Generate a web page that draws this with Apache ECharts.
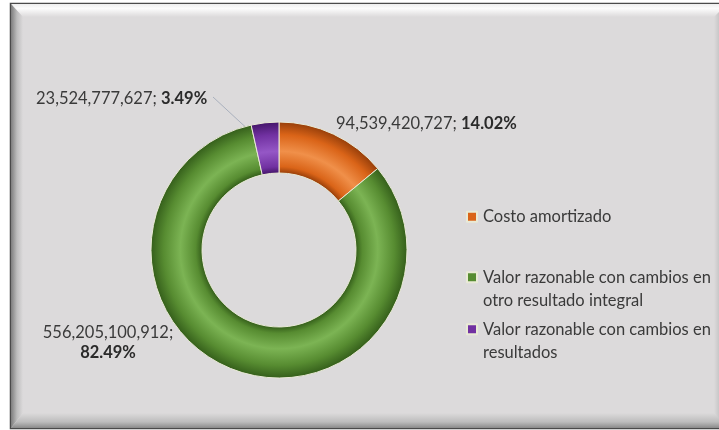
<!DOCTYPE html>
<html>
<head>
<meta charset="utf-8">
<script src="https://cdn.jsdelivr.net/npm/echarts@6/dist/echarts.min.js"></script>
<style>
  html, body { margin: 0; padding: 0; background: #ffffff; }
  #chart { width: 719px; height: 430px; }
</style>
</head>
<body>
<div id="chart"></div>
<script>
// categorias y valores
var categorias = [
    'Costo amortizado',
    'Valor razonable con cambios en otro resultado integral',
    'Valor razonable con cambios en resultados'
];
var valores = [94539420727, 556205100912, 23524777627];
var textosLeyenda = [
    'Costo amortizado',
    '\nValor razonable con cambios en\notro resultado integral',
    '\nValor razonable con cambios en\nresultados'
];
// colores: base, claro, oscuro
var coloresBase = ['#da6418', '#578c31', '#7131a1'];
var coloresClaros = ['#f0904a', '#7cb454', '#9557c6'];
var coloresOscuros = ['#983f0a', '#355f1b', '#45166a'];

var cx = 279, cy = 250, rIn = 77, rOut = 128;

function tubo(i) {
    var k = rIn / rOut;
    return {
        type: 'radial', x: cx, y: cy, r: rOut, global: true,
        colorStops: [
            {offset: 0, color: coloresOscuros[i]},
            {offset: k, color: coloresOscuros[i]},
            {offset: k + 0.05, color: coloresBase[i]},
            {offset: k + 0.17, color: coloresClaros[i]},
            {offset: k + 0.3, color: coloresBase[i]},
            {offset: 1, color: coloresOscuros[i]}
        ]
    };
}

function fmt(n) {
    return n.toLocaleString('en-US');
}

var datos = [];
for (var i = 0; i < categorias.length; i++) {
    datos.push({
        name: categorias[i],
        value: valores[i],
        itemStyle: {color: tubo(i)},
        labelLine: {show: i === 2}
    });
}

var fuente = 'Lato';
var tam = 16.5;
var leyendas = [];
var topes = [205, 242, 294];
for (var j = 0; j < categorias.length; j++) {
    (function (j) {
        leyendas.push({
            data: [{name: categorias[j], itemStyle: {color: coloresBase[j]}}],
            left: 466,
            top: topes[j],
            padding: 0,
            orient: 'vertical',
            icon: 'rect',
            itemWidth: 10,
            itemHeight: 10,
            itemGap: 0,
            selectedMode: false,
            formatter: function () { return textosLeyenda[j]; },
            textStyle: {fontFamily: fuente, fontSize: tam, lineHeight: 23.5, color: '#3a3a3a', padding: [0, 0, 0, 1]}
        });
    })(j);
}

// posiciones de etiquetas
var posEtiquetas = [
    {x: 336, y: 124, align: 'left'},
    {x: 108, y: 343, align: 'center'},
    {x: 36, y: 99, align: 'left'}
];

var myChart = echarts.init(document.getElementById('chart'));
var options = {
    backgroundColor: '#ffffff',
    animation: false,
    graphic: [
        // marco con bisel
        {type: 'rect', shape: {x: 10.5, y: 3.5, width: 730, height: 425}, style: {fill: '#dcdadb', stroke: '#4a4a4a', lineWidth: 1.5}, z: -10},
        {type: 'polygon', shape: {points: [[11, 4], [740, 4], [740, 17], [23, 17]]},
            style: {fill: new echarts.graphic.LinearGradient(0, 0, 0, 1, [{offset: 0, color: '#eeeeee'}, {offset: 0.35, color: '#fcfcfc'}, {offset: 1, color: '#dcdadb'}])}, z: -9},
        {type: 'polygon', shape: {points: [[11, 4], [23, 17], [23, 413], [11, 428]]},
            style: {fill: new echarts.graphic.LinearGradient(0, 0, 1, 0, [{offset: 0, color: '#7d7d7d'}, {offset: 0.5, color: '#bdbdbd'}, {offset: 1, color: '#dcdadb'}])}, z: -9},
        {type: 'polygon', shape: {points: [[11, 428], [23, 413], [740, 413], [740, 428]]},
            style: {fill: new echarts.graphic.LinearGradient(0, 0, 0, 1, [{offset: 0, color: '#dcdadb'}, {offset: 0.6, color: '#bcbcbc'}, {offset: 1, color: '#8a8a8a'}])}, z: -9},
        {type: 'polygon', shape: {points: [[714, 17], [727, 4], [727, 428], [714, 413]]},
            style: {fill: new echarts.graphic.LinearGradient(0, 0, 1, 0, [{offset: 0, color: '#dcdadb'}, {offset: 1, color: '#a8a8a8'}])}, z: -9}
    ],
    legend: leyendas,
    series: [
        {
            name: 'Inversiones',
            type: 'pie',
            center: [cx, cy],
            radius: [rIn, rOut],
            startAngle: 90,
            clockwise: true,
            percentPrecision: 2,
            avoidLabelOverlap: false,
            itemStyle: {borderColor: '#e9ead6', borderWidth: 1},
            label: {
                show: true,
                position: 'outside',
                fontFamily: fuente,
                fontSize: tam,
                color: '#3a3a3a',
                formatter: function (p) {
                    var sep = p.dataIndex === 1 ? '\n' : ' ';
                    return '{v|' + fmt(p.value) + ';}' + sep + '{b|' + p.percent.toFixed(2) + '%}';
                },
                rich: {
                    v: {fontFamily: fuente, fontSize: tam, color: '#3a3a3a', lineHeight: 20},
                    b: {fontFamily: fuente, fontSize: tam, fontWeight: 'bold', color: '#2a2a2a', lineHeight: 20}
                }
            },
            labelLine: {show: false, lineStyle: {color: '#a9b0bd', width: 1}, length: 10, length2: 10},
            labelLayout: function (params) {
                var pos = posEtiquetas[params.dataIndex];
                var res = {x: pos.x, y: pos.y, align: pos.align, verticalAlign: 'middle'};
                if (params.dataIndex === 2) {
                    // linea guia hasta el centro del sector
                    res.labelLinePoints = [[213, 97], [240, 122], [268, 147]];
                }
                return res;
            },
            emphasis: {disabled: true},
            data: datos
        }
    ]
};
myChart.setOption(options);
</script>
</body>
</html>
